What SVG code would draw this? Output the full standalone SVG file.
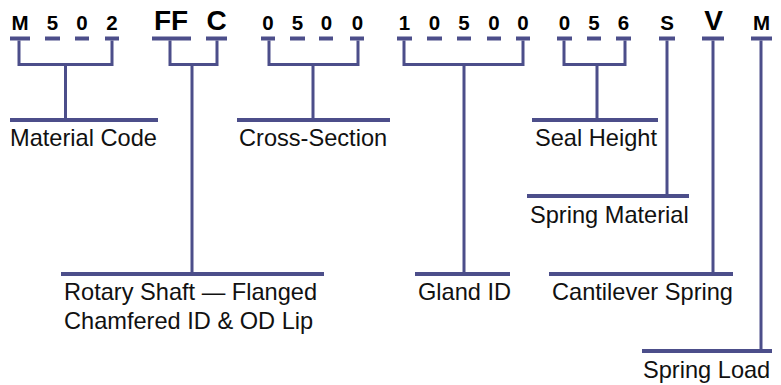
<svg xmlns="http://www.w3.org/2000/svg" width="781" height="385" viewBox="0 0 781 385">
<style>
.c{font-family:"Liberation Sans",Arial,sans-serif;font-weight:bold;fill:#000;text-anchor:middle}
.s{font-size:20.5px}
.b{font-size:28px}
.d{fill:#4c4e8a}
.l{font-family:"Liberation Sans",Arial,sans-serif;font-size:23.6px;fill:#111}
.k{fill:none;stroke:#4c4e8a;stroke-width:3}
.u{stroke:#4c4e8a;stroke-width:4}
</style>
<rect width="781" height="385" fill="#fff"/>
<g id="codes">
<g id="code-M"><text class="c s" x="20" y="29.5">M</text><rect class="d" x="10" y="36.5" width="20" height="4"/></g>
<g id="code-5a"><text class="c s" x="52.5" y="29.5">5</text><rect class="d" x="45" y="36.5" width="15" height="4"/></g>
<g id="code-0a"><text class="c s" x="82" y="29.5">0</text><rect class="d" x="75" y="36.5" width="14" height="4"/></g>
<g id="code-2"><text class="c s" x="112" y="29.5">2</text><rect class="d" x="105" y="36.5" width="14" height="4"/></g>
<g id="code-FF"><text class="c b" x="171" y="29.5">FF</text><rect class="d" x="152" y="36.5" width="39" height="4"/></g>
<g id="code-C"><text class="c b" x="216.5" y="29.5">C</text><rect class="d" x="206" y="36.5" width="21" height="4"/></g>
<g id="code-0b"><text class="c s" x="268" y="29.5">0</text><rect class="d" x="261" y="36.5" width="14" height="4"/></g>
<g id="code-5b"><text class="c s" x="297.5" y="29.5">5</text><rect class="d" x="290" y="36.5" width="15" height="4"/></g>
<g id="code-0c"><text class="c s" x="326.5" y="29.5">0</text><rect class="d" x="319" y="36.5" width="14" height="4"/></g>
<g id="code-0d"><text class="c s" x="357.5" y="29.5">0</text><rect class="d" x="350" y="36.5" width="14" height="4"/></g>
<g id="code-1"><text class="c s" x="404.5" y="29.5">1</text><rect class="d" x="397" y="36.5" width="15" height="4"/></g>
<g id="code-0e"><text class="c s" x="434.5" y="29.5">0</text><rect class="d" x="427" y="36.5" width="15" height="4"/></g>
<g id="code-5c"><text class="c s" x="464" y="29.5">5</text><rect class="d" x="457" y="36.5" width="14" height="4"/></g>
<g id="code-0f"><text class="c s" x="494" y="29.5">0</text><rect class="d" x="487" y="36.5" width="14" height="4"/></g>
<g id="code-0g"><text class="c s" x="523" y="29.5">0</text><rect class="d" x="516" y="36.5" width="14" height="4"/></g>
<g id="code-0h"><text class="c s" x="564.5" y="29.5">0</text><rect class="d" x="557" y="36.5" width="15" height="4"/></g>
<g id="code-5d"><text class="c s" x="594" y="29.5">5</text><rect class="d" x="587" y="36.5" width="14" height="4"/></g>
<g id="code-6"><text class="c s" x="623.5" y="29.5">6</text><rect class="d" x="616" y="36.5" width="15" height="4"/></g>
<g id="code-S"><text class="c s" x="667" y="29.5">S</text><rect class="d" x="659" y="36.5" width="16" height="4"/></g>
<g id="code-V"><text class="c b" x="713.5" y="29.5">V</text><rect class="d" x="702" y="36.5" width="22" height="4"/></g>
<g id="code-M2"><text class="c s" x="761.5" y="29.5">M</text><rect class="d" x="751" y="36.5" width="21" height="4"/></g>
</g>
<g id="connectors">
<path class="k" d="M19 40.5V64.5H112V40.5M65.5 64.5V120"/>
<path class="k" d="M170 40.5V64.5H217V40.5M192 64.5V274"/>
<path class="k" d="M269 40.5V64.5H358V40.5M313 64.5V120"/>
<path class="k" d="M404 40.5V64.5H523V40.5M464 64.5V274"/>
<path class="k" d="M564 40.5V64.5H625V40.5M597 64.5V120"/>
<path class="k" d="M667 40.5V196"/>
<path class="k" d="M713 40.5V274"/>
<path class="k" d="M761 40.5V351"/>
</g>
<g id="label-material-code"><line class="u" x1="10" y1="120" x2="158" y2="120"/><text class="l" x="10" y="146">Material Code</text></g>
<g id="label-cross-section"><line class="u" x1="237" y1="120" x2="390" y2="120"/><text class="l" x="239" y="146">Cross-Section</text></g>
<g id="label-seal-height"><line class="u" x1="532" y1="120" x2="658" y2="120"/><text class="l" x="535" y="146">Seal Height</text></g>
<g id="label-spring-material"><line class="u" x1="527" y1="196" x2="689" y2="196"/><text class="l" x="530" y="223">Spring Material</text></g>
<g id="label-rotary"><line class="u" x1="61" y1="274" x2="324" y2="274"/><text class="l" x="64" y="300">Rotary Shaft — Flanged</text><text class="l" x="64" y="329">Chamfered ID &amp; OD Lip</text></g>
<g id="label-gland-id"><line class="u" x1="415" y1="274" x2="510" y2="274"/><text class="l" x="418" y="300">Gland ID</text></g>
<g id="label-cantilever"><line class="u" x1="549" y1="274" x2="733" y2="274"/><text class="l" x="552" y="300">Cantilever Spring</text></g>
<g id="label-spring-load"><line class="u" x1="642" y1="351" x2="772" y2="351"/><text class="l" x="643" y="378">Spring Load</text></g>
</svg>
